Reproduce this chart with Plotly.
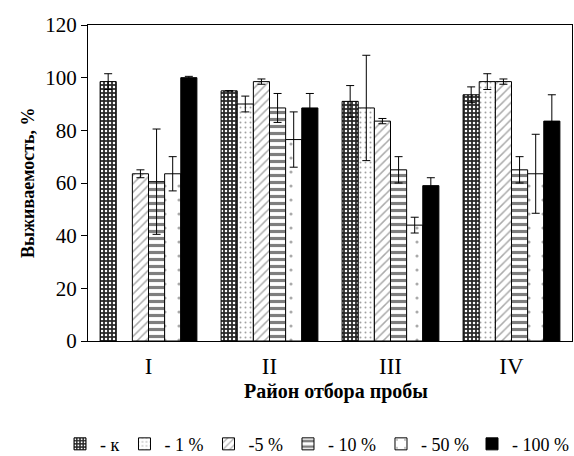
import plotly.graph_objects as go

categories = ["I", "II", "III", "IV"]
series_names = ["- к", "- 1 %", "-5 %", "- 10 %", "- 50 %", "- 100 %"]
val_k = [98.5, 95, 91, 93.5]
val_1 = [None, 90, 88.5, 98.5]
val_5 = [63.5, 98.5, 83.5, 98.5]
val_10 = [60.5, 88.5, 65, 65]
val_50 = [63.5, 76.5, 44, 63.5]
val_100 = [100, 88.5, 59, 83.5]
err_k = [3, 0, 6, 3]
err_1 = [0, 3, 20, 3]
err_5 = [1.5, 1, 1, 1]
err_10 = [20, 5.5, 5, 5]
err_50 = [6.5, 10.5, 3, 15]
err_100 = [0.5, 5.5, 3, 10]

values = [val_k, val_1, val_5, val_10, val_50, val_100]
errors = [err_k, err_1, err_5, err_10, err_50, err_100]
styles = [
    dict(color="#2a2a2a", pattern=dict(shape=".", fgcolor="white", bgcolor="#2a2a2a", size=4, solidity=0.3, fillmode="replace")),
    dict(color="white", pattern=dict(shape=".", fgcolor="#444", bgcolor="white", size=5, solidity=0.12)),
    dict(color="white", pattern=dict(shape="/", fgcolor="#555", bgcolor="white", size=6, solidity=0.25)),
    dict(color="white", pattern=dict(shape="-", fgcolor="black", bgcolor="white", size=7, solidity=0.45)),
    dict(color="white", pattern=dict(shape=".", fgcolor="#555", bgcolor="white", size=14, solidity=0.04)),
    dict(color="black", pattern=dict(shape="")),
]
legend_ids = ["legend", "legend", "legend", "legend", "legend", "legend2"]

fig = go.Figure()
for name, v, e, st, lg in zip(series_names, values, errors, styles, legend_ids):
    fig.add_trace(go.Bar(
        x=categories, y=v, name=name, legend=lg,
        marker=dict(color=st["color"], pattern=st["pattern"], line=dict(color="black", width=1)),
        error_y=dict(type="data", array=e, visible=True, color="black", thickness=1, width=4),
    ))

font_family = "Liberation Serif"
legend_common = dict(orientation="h", xref="container", yref="container", y=0.026,
                     yanchor="middle", bgcolor="rgba(0,0,0,0)",
                     font=dict(size=18, family=font_family), itemwidth=30, tracegroupgap=0)
fig.update_layout(
    width=574, height=456,
    margin=dict(l=88, r=2, t=25, b=115, autoexpand=False),
    paper_bgcolor="white", plot_bgcolor="white",
    barmode="group", bargap=0.2, bargroupgap=0,
    font=dict(family=font_family, color="black"),
    showlegend=True,
    legend=dict(x=60 / 574, xanchor="left", **legend_common),
    legend2=dict(x=1.0, xanchor="right", **legend_common),
    xaxis=dict(
        showline=True, linecolor="black", linewidth=1, mirror=True, ticks="",
        tickfont=dict(size=23, family=font_family), ticklabelstandoff=4,
        automargin=False,
    ),
    yaxis=dict(
        range=[0, 120], dtick=20, showline=True, linecolor="black", linewidth=1, mirror=True,
        ticks="outside", ticklen=6, tickcolor="black", showgrid=False, zeroline=False,
        tickfont=dict(size=21, family=font_family),
        automargin=False,
    ),
    annotations=[
        dict(text="<b>Район отбора пробы</b>", xref="paper", yref="paper",
             x=(336 - 88) / 484, y=-(391 - 341) / 316, xanchor="center", yanchor="middle",
             showarrow=False, font=dict(size=20, family=font_family)),
        dict(text="<b>Выживаемость, %</b>", xref="paper", yref="paper",
             x=-(88 - 28) / 484, y=(341 - 183) / 316, xanchor="center", yanchor="middle",
             textangle=-90, showarrow=False, font=dict(size=18, family=font_family)),
    ],
)
fig.write_html("out.html")
